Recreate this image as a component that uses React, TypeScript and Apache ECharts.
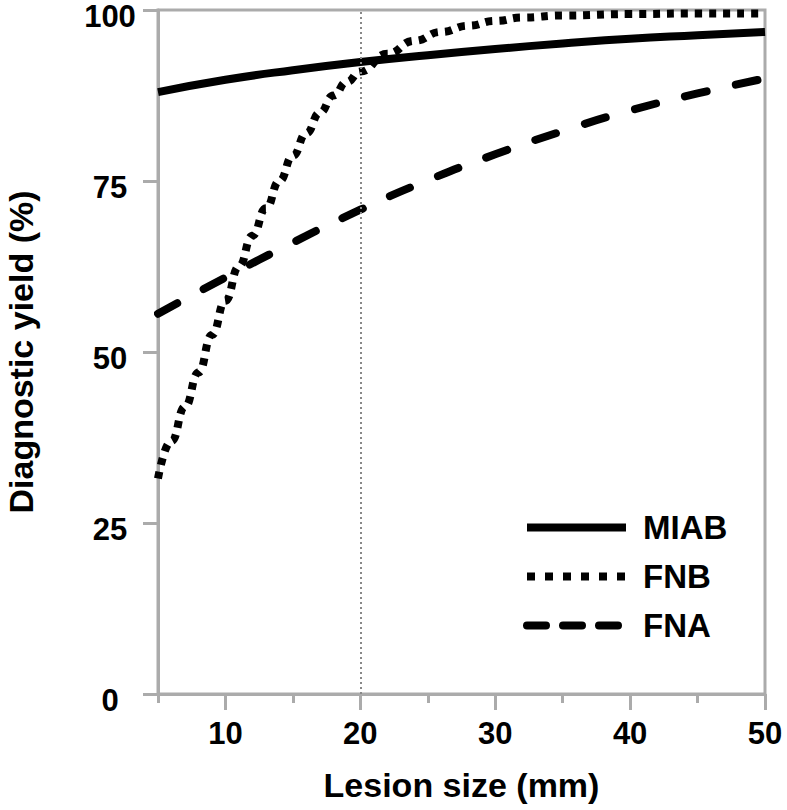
import React, { useEffect, useRef } from "react";
import * as echarts from "echarts";

// Lesion size (mm) positions and diagnostic yield (%) for each technique
const miabX = [5, 10, 15, 20, 25, 30, 35, 40, 45, 50];
const miabY = [88.0, 89.8, 91.2, 92.4, 93.4, 94.3, 95.1, 95.8, 96.3, 96.8];

const fnbX = [5, 6, 7, 8, 9, 10, 11, 12, 13, 14, 15, 16, 17, 18, 19, 20, 22, 24, 26, 28, 30, 32, 35, 40, 45, 50];
const fnbY = [31.5, 37, 42, 47, 52.5, 57.5, 62.5, 67, 71, 75, 78.7, 82, 85, 87.5, 89.5, 91, 93.6, 95.5, 96.8, 97.7, 98.4, 98.9, 99.2, 99.4, 99.5, 99.5];

const fnaX = [5, 10, 15, 20, 25, 30, 35, 40, 45, 50];
const fnaY = [55.6, 60.9, 66.0, 70.8, 75.1, 78.9, 82.3, 85.3, 87.8, 90.0];

const xTickLabels = ["5", "10", "15", "20", "25", "30", "35", "40", "45", "50"];
const referenceSize = 20;

const FONT = "'Liberation Sans', Arial, Helvetica, sans-serif";
const GRAY = "#ababab";

const pairs = (xs: number[], ys: number[]) => xs.map((x, i) => [x, ys[i]]);
const isMajor = (_i: number, v: string) => Number(v) % 10 === 0;

export default function App() {
  const ref = useRef<HTMLDivElement>(null);

  useEffect(() => {
    if (!ref.current) return;
    const chart = echarts.init(ref.current, null, { renderer: "svg" });
    const labelStyle = {
      fontFamily: FONT,
      fontWeight: "bold" as const,
      color: "#000",
    };
    const hiddenSymbol = { opacity: 0, color: "transparent", borderWidth: 0 };
    chart.setOption({
      animation: false,
      backgroundColor: "#fff",
      grid: {
        left: 158,
        right: 22,
        top: 10,
        bottom: 116,
        containLabel: false,
        outerBoundsMode: "none",
        show: true,
        borderColor: GRAY,
        borderWidth: 3,
        backgroundColor: "transparent",
      },
      legend: {
        orient: "vertical",
        left: 518,
        top: 506,
        itemWidth: 99,
        itemHeight: 30,
        itemGap: 16,
        selectedMode: false,
        itemStyle: hiddenSymbol,
        textStyle: { ...labelStyle, fontSize: 33, padding: [0, 0, 0, 12] },
        data: [
          { name: "MIAB", itemStyle: hiddenSymbol, lineStyle: { width: 8, type: "solid", color: "#000" } },
          { name: "FNB", itemStyle: hiddenSymbol, lineStyle: { width: 8, type: [8, 10], cap: "butt", color: "#000" } },
          { name: "FNA", itemStyle: hiddenSymbol, lineStyle: { width: 8, type: [19, 17], cap: "round", color: "#000" } },
        ],
      },
      xAxis: [
        {
          type: "value",
          min: 5,
          max: 50,
          interval: 5,
          splitLine: { show: false },
          axisLine: { show: true, lineStyle: { color: GRAY, width: 3 } },
          axisTick: { show: true, length: 9, lineStyle: { color: GRAY, width: 3 } },
          axisLabel: { show: false },
          name: "Lesion size (mm)",
          nameLocation: "middle",
          nameGap: 74,
          nameTextStyle: { ...labelStyle, fontSize: 34 },
        },
        {
          type: "category",
          data: xTickLabels,
          boundaryGap: false,
          position: "bottom",
          axisLine: { show: false },
          axisTick: {
            show: true,
            length: 16,
            interval: isMajor,
            lineStyle: { color: GRAY, width: 3 },
          },
          axisLabel: { ...labelStyle, fontSize: 31, margin: 24, interval: isMajor },
          splitLine: { show: false },
        },
      ],
      yAxis: {
        type: "value",
        min: 0,
        max: 100,
        interval: 25,
        splitLine: { show: false },
        axisLine: { show: true, lineStyle: { color: GRAY, width: 3 } },
        axisTick: { show: true, length: 15, lineStyle: { color: GRAY, width: 3 } },
        axisLabel: {
          ...labelStyle,
          fontSize: 31,
          align: "center",
          verticalAlign: "top",
          lineHeight: 12,
          margin: 48,
        },
        name: "Diagnostic yield (%)",
        nameLocation: "middle",
        nameGap: 122,
        nameTextStyle: { ...labelStyle, fontSize: 34, lineHeight: 30 },
      },
      series: [
        {
          name: "MIAB",
          type: "line",
          data: pairs(miabX, miabY),
          symbol: "none",
          smooth: true,
          lineStyle: { color: "#000", width: 8, type: "solid" },
          itemStyle: { color: "#000" },
          markLine: {
            silent: true,
            symbol: ["none", "none"],
            label: { show: false },
            lineStyle: { color: "#888", width: 2, type: [2, 3] },
            data: [{ xAxis: referenceSize }],
          },
          z: 3,
        },
        {
          name: "FNB",
          type: "line",
          data: pairs(fnbX, fnbY),
          symbol: "none",
          smooth: true,
          smoothMonotone: "x",
          lineStyle: { color: "#000", width: 8, type: [7, 7], cap: "butt" },
          itemStyle: { color: "#000" },
          z: 3,
        },
        {
          name: "FNA",
          type: "line",
          data: pairs(fnaX, fnaY),
          symbol: "none",
          smooth: true,
          lineStyle: { color: "#000", width: 8, type: [22, 30], cap: "round" },
          itemStyle: { color: "#000" },
          z: 3,
        },
      ],
    });
    return () => chart.dispose();
  }, []);

  return (
    <div
      ref={ref}
      style={{ position: "fixed", left: 0, top: 0, width: 787, height: 810, background: "#fff" }}
    />
  );
}
